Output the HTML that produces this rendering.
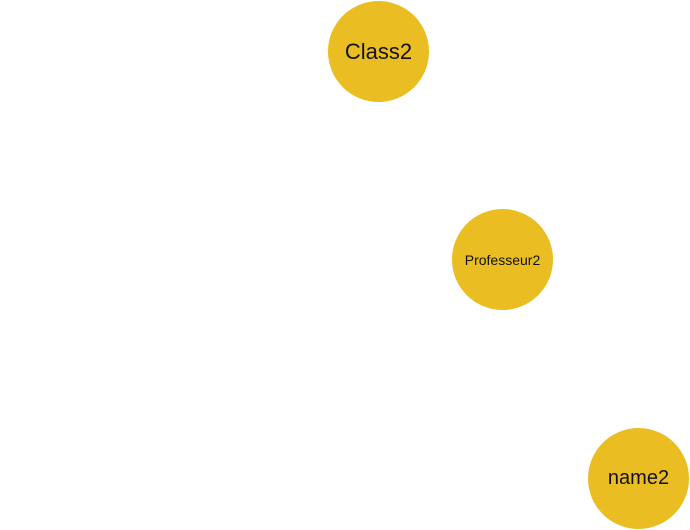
<!DOCTYPE html>
<html><head><style>
body{margin:0;width:690px;height:530px;background:#fff;position:relative;overflow:hidden;font-family:"Liberation Sans",sans-serif}
.c{position:absolute;width:101px;height:101px;border-radius:50%;background:#eabd22;display:flex;align-items:center;justify-content:center;color:#111}
</style></head><body>
<div class="c" style="left:328px;top:1px;font-size:22px">Class2</div>
<div class="c" style="left:452px;top:209px;font-size:14px">Professeur2</div>
<div class="c" style="left:588px;top:428px;font-size:20px">name2</div>
</body></html>
